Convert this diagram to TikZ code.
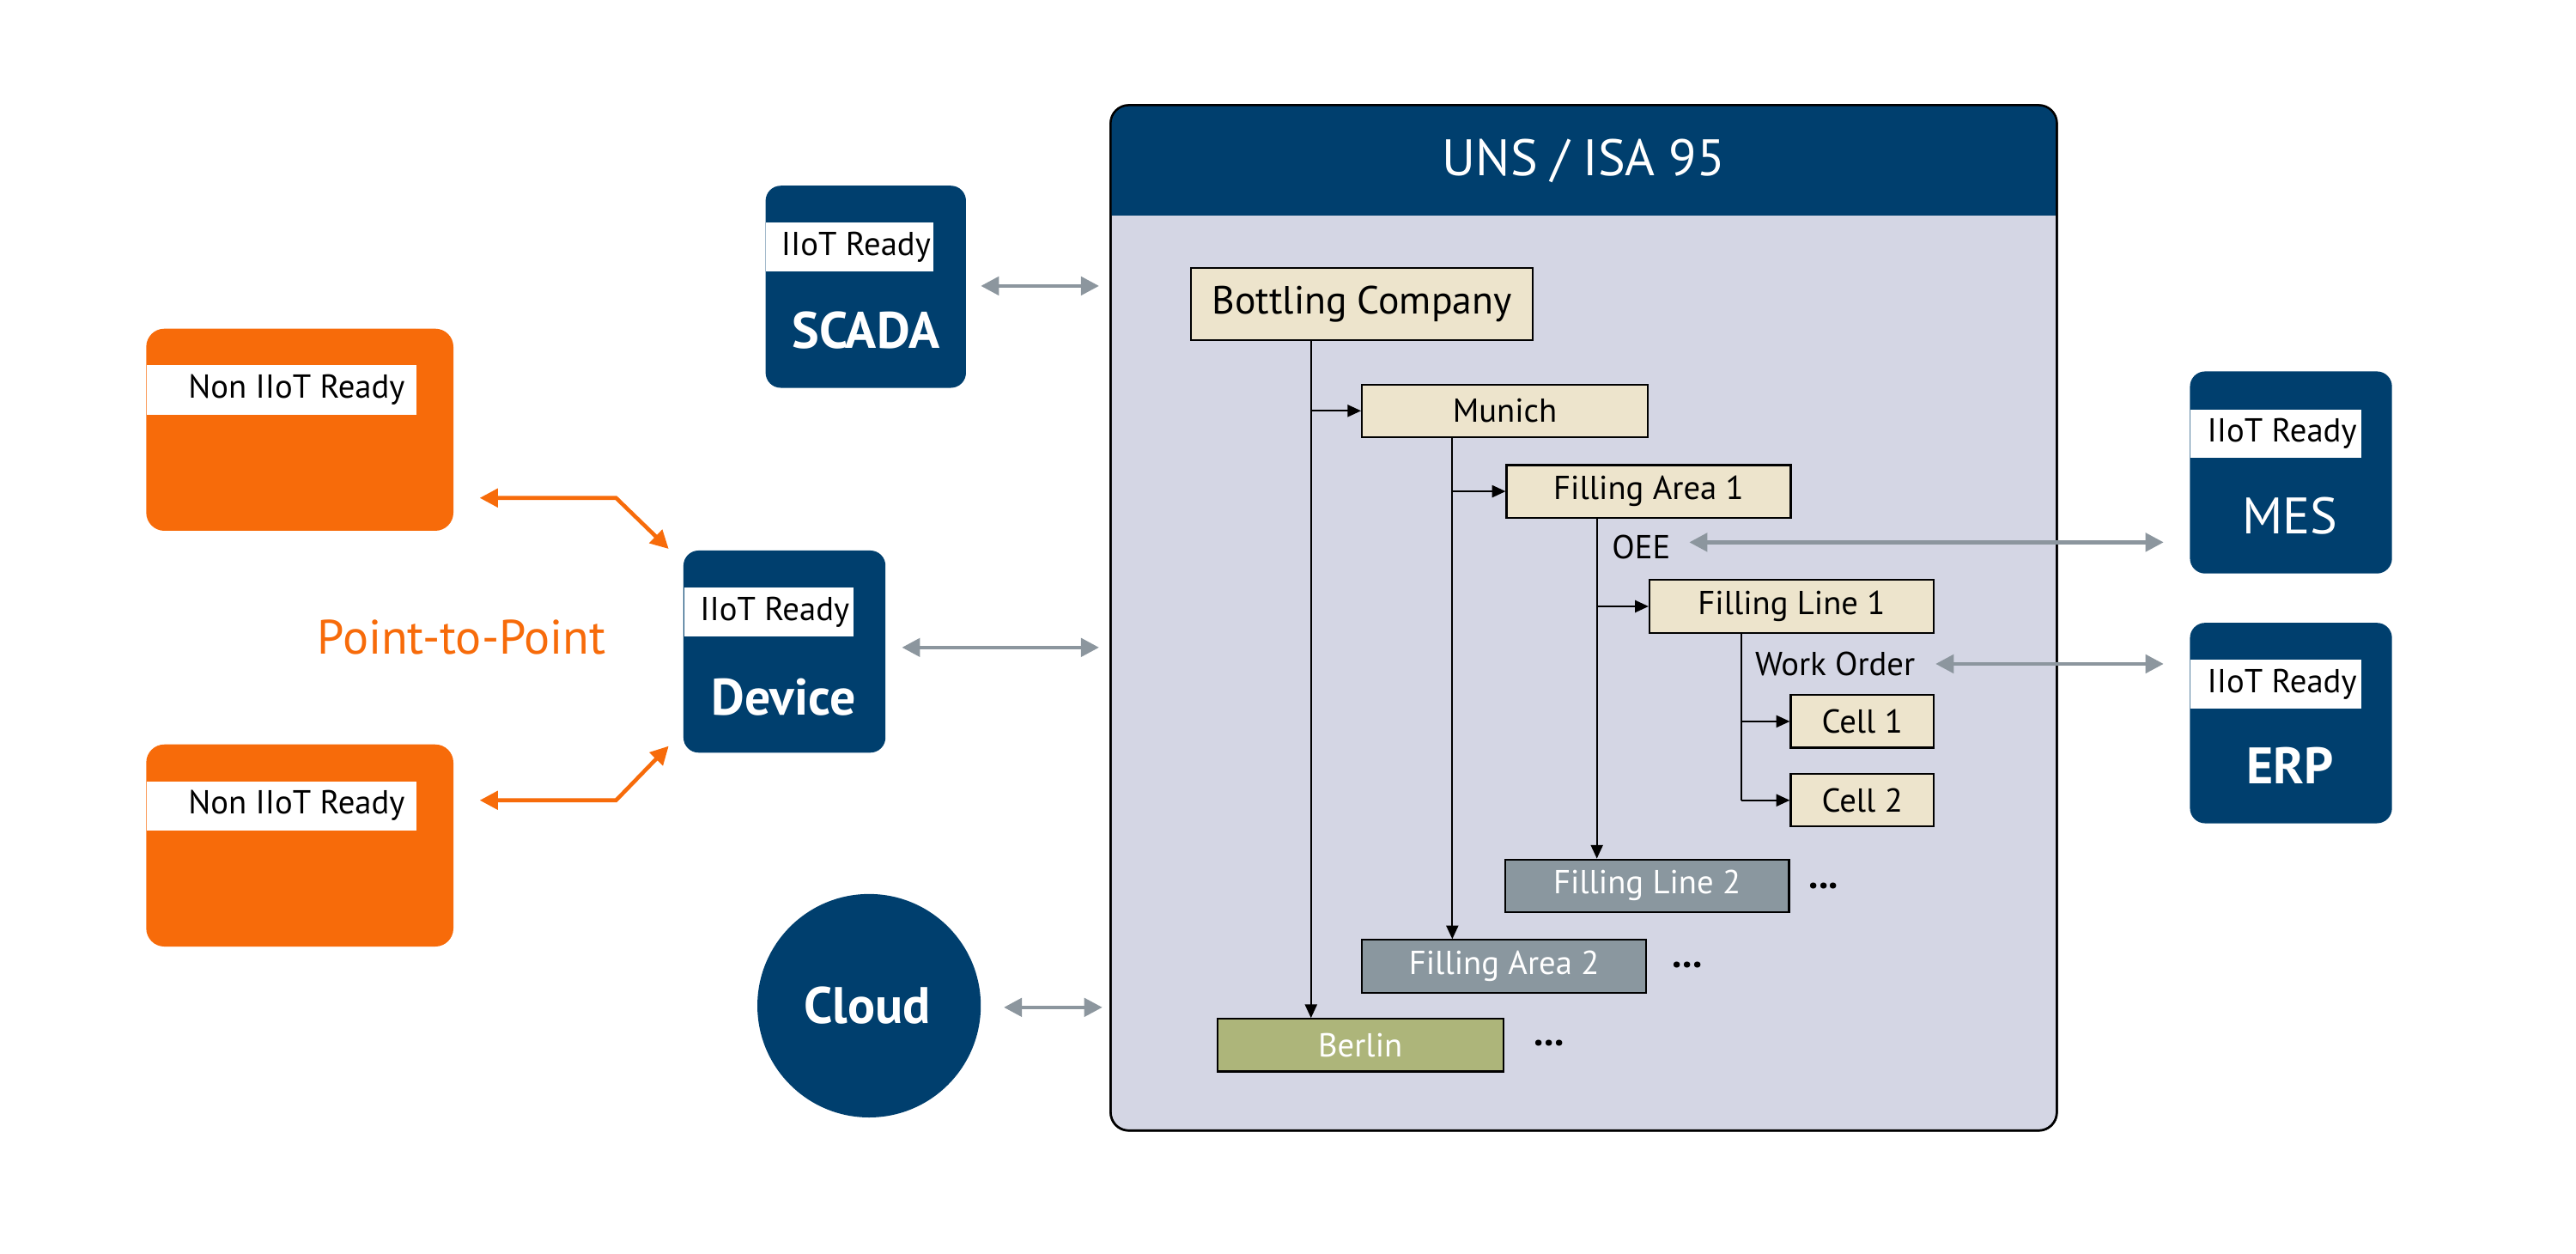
\documentclass[tikz,border=0pt]{standalone}
\usepackage{fontspec}
\setmainfont{PT Sans}
\usetikzlibrary{arrows.meta}
\definecolor{navy}{HTML}{003F6E}
\definecolor{lav}{HTML}{D4D6E4}
\definecolor{beige}{HTML}{EDE4CC}
\definecolor{slate}{HTML}{8A979F}
\definecolor{olive}{HTML}{ADB57A}
\definecolor{orng}{HTML}{F76B0A}
\definecolor{garr}{HTML}{8C969E}
\newcommand\myu{0.5443pt}
\begin{document}
\begin{tikzpicture}[x=0.01913cm,y=-0.01913cm,
 sz/.style 2 args={minimum width={#1*\myu},minimum height={#2*\myu}},
 sys/.style={fill=navy,draw=none,rounded corners=5pt,inner sep=0pt},
 lab/.style={fill=white,inner sep=0pt,anchor=north west,font=\fontsize{11}{12}\selectfont,text=black},
 big/.style={text=white,font=\fontsize{17}{18}\selectfont\bfseries},
 tn/.style={draw=black,line width=0.6pt,fill=beige,inner sep=0pt,font=\fontsize{11}{12}\selectfont},
 gn/.style={tn,fill=slate,text=white},
 tarr/.style={-{Triangle[length=4.5pt,width=4pt]},line width=0.6pt},
 garrow/.style={{Triangle[length=6pt,width=6pt]}-{Triangle[length=6pt,width=6pt]},draw=garr,line width=1.3pt},
 oarrow/.style={{Triangle[length=6pt,width=6pt]}-{Triangle[length=6pt,width=6pt]},draw=orng,line width=1.3pt}]
\useasboundingbox (0,0) rectangle (1568,763);
% UNS box
\node[draw=black,line width=0.7pt,fill=lav,rounded corners=6pt,sz={576}{624},inner sep=0pt] (uns) at (964,376) {};
\fill[navy,rounded corners=6pt] (676,64) rectangle (1252,131);
\fill[navy] (676,110) rectangle (1252,131);
\draw[line width=0.7pt,rounded corners=6pt] (676,64) rectangle (1252,688);
\node[text=white,font=\fontsize{17}{18}\selectfont] (title) at (964,98) {UNS / ISA 95};
% systems
\node[sys,sz={122}{123}] (scada) at (527,174.5) {};
\node[lab,sz={102}{30}] (scadal) at (466,135) {\hspace{4pt}IIoT Ready};
\node[big] (scadat) at (527,201) {SCADA};
\node[sys,sz={123}{123}] (dev) at (477.5,396.5) {};
\node[lab,sz={103}{30}] (devl) at (416,357) {\hspace{4pt}IIoT Ready};
\node[big] (devt) at (477,424) {Device};
\node[sys,sz={123}{123}] (mes) at (1394.5,287.5) {};
\node[lab,sz={104}{29}] (mesl) at (1333,249) {\hspace{4pt}IIoT Ready};
\node[text=white,font=\fontsize{17}{18}\selectfont] (mest) at (1394,314) {MES};
\node[sys,sz={123}{122}] (erp) at (1394.5,440) {};
\node[lab,sz={104}{30}] (erpl) at (1333,401) {\hspace{4pt}IIoT Ready};
\node[big] (erpt) at (1394,466) {ERP};
\node[circle,fill=navy,minimum size={136*\myu},inner sep=0pt] (cloud) at (529,612) {};
\node[big] (cloudt) at (528,612) {Cloud};
% orange
\node[fill=orng,rounded corners=6pt,sz={187}{123},inner sep=0pt] (o1) at (182.5,261.5) {};
\node[lab,sz={164}{30}] (o1l) at (89,222) {\hspace{10pt}Non IIoT Ready};
\node[fill=orng,rounded corners=6pt,sz={187}{123},inner sep=0pt] (o2) at (182.5,514.5) {};
\node[lab,sz={164}{30}] (o2l) at (89,475) {\hspace{10pt}Non IIoT Ready};
\node[text=orng,font=\fontsize{16}{17}\selectfont] (p2p) at (281,388) {Point-to-Point};
\coordinate (oa1) at (292,303); \coordinate (ob1) at (407,334);
\coordinate (oa2) at (292,487); \coordinate (ob2) at (407,454);
\draw[oarrow] (oa1) -- (375,303) -- (ob1);
\draw[oarrow] (oa2) -- (375,487) -- (ob2);
% gray arrows
\coordinate (g1a) at (597,174); \coordinate (g1b) at (669,174);
\coordinate (g2a) at (549,394); \coordinate (g2b) at (669,394);
\coordinate (g3a) at (611,613); \coordinate (g3b) at (671,613);
\draw[garrow] (g1a) -- (g1b);
\draw[garrow] (g2a) -- (g2b);
\draw[garrow] (g3a) -- (g3b);
% tree
\node[tn,sz={208}{44}] (bc) at (829,185) {\fontsize{13}{14}\selectfont Bottling Company};
\node[tn,sz={174}{32}] (mun) at (916,250) {Munich};
\node[tn,sz={173}{32}] (fa1) at (1003.5,299) {Filling Area 1};
\node[tn,sz={173}{32}] (fl1) at (1090.5,369) {Filling Line 1};
\node[tn,sz={87}{32}] (c1) at (1133.5,439) {Cell 1};
\node[tn,sz={87}{32}] (c2) at (1133.5,487) {Cell 2};
\node[gn,sz={173}{32}] (fl2) at (1002.5,539) {Filling Line 2};
\node[gn,sz={173}{32}] (fa2) at (915.5,588) {Filling Area 2};
\node[gn,fill=olive,sz={174}{32}] (ber) at (828,636) {Berlin};
\node[font=\fontsize{11}{12}\selectfont] (oee) at (999,333) {OEE};
\node[font=\fontsize{11}{12}\selectfont] (wo) at (1117,404) {Work Order};
\node[font=\fontsize{13}{14}\selectfont\bfseries] (d1) at (1110,539) {...};
\node[font=\fontsize{13}{14}\selectfont\bfseries] (d2) at (1027,587) {...};
\node[font=\fontsize{13}{14}\selectfont\bfseries] (d3) at (943,635) {...};
\draw[tarr] (798,0 |- bc.south) -- (798,0 |- ber.north);
\draw[tarr] (798,0 |- mun.west) -- (mun.west);
\draw[tarr] (884,0 |- mun.south) -- (884,0 |- fa2.north);
\draw[tarr] (884,0 |- fa1.west) -- (fa1.west);
\draw[tarr] (972,0 |- fa1.south) -- (972,0 |- fl2.north);
\draw[tarr] (972,0 |- fl1.west) -- (fl1.west);
\draw (1060,0 |- fl1.south) -- (1060,0 |- c2.west);
\draw[tarr] (1060,0 |- c1.west) -- (c1.west);
\draw[tarr] (1060,0 |- c2.west) -- (c2.west);
\coordinate (oeeb) at (1317,330);
\coordinate (wob) at (1317,404);
\draw[garrow] (oee.east) ++(5,-3) -- (oeeb);
\draw[garrow] (wo.east) ++(6,0) -- (wob);
\end{tikzpicture}
\end{document}
